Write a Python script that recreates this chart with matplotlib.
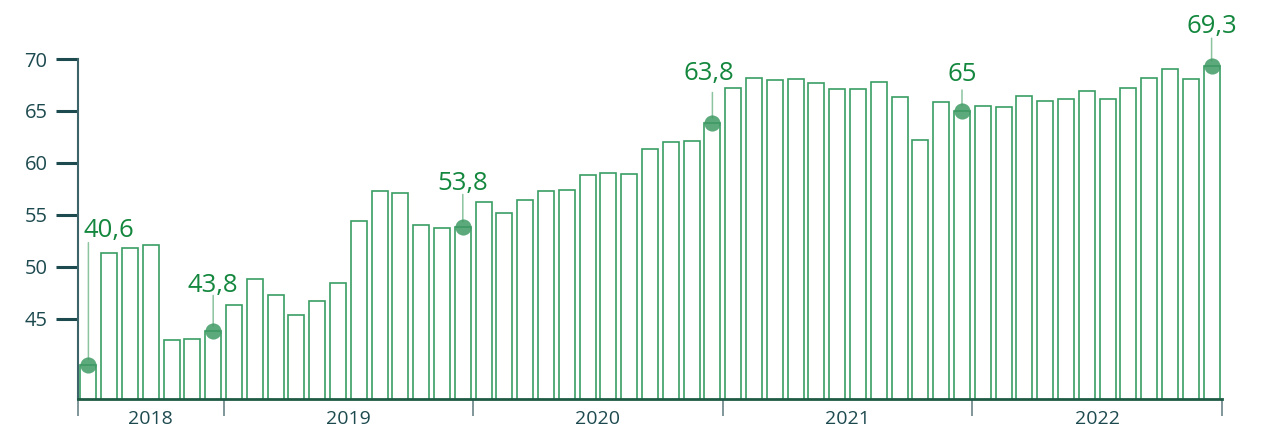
import matplotlib
matplotlib.use("Agg")
import matplotlib.pyplot as plt
import numpy as np

plt.rcParams['font.family'] = ['Open Sans', 'DejaVu Sans']

# Monthly values, June 2018 .. December 2022
values = [40.6, 51.3, 51.8, 52.1, 43.0, 43.1, 43.8,
          46.3, 48.8, 47.3, 45.4, 46.7, 48.5, 54.4, 57.3, 57.1, 54.0, 53.7, 53.8,
          56.2, 55.2, 56.4, 57.3, 57.4, 58.8, 59.0, 58.9, 61.3, 62.0, 62.1, 63.8,
          67.2, 68.2, 68.0, 68.1, 67.7, 67.1, 67.1, 67.8, 66.3, 62.2, 65.9, 65.0,
          65.5, 65.4, 66.4, 66.0, 66.2, 66.9, 66.2, 67.2, 68.2, 69.0, 68.1, 69.3]
years = ['2018', '2019', '2020', '2021', '2022']
months_per_year = [7, 12, 12, 12, 12]
yticks = [45, 50, 55, 60, 65, 70]
highlight_idx = [0, 6, 18, 30, 42, 54]
highlight_lbl = ['40,6', '43,8', '53,8', '63,8', '65', '69,3']
# (text dx, text baseline dy, line top dy) in pixels
label_offsets = [(20, 128, 122), (0, 39, 36), (0, 37, 33), (-4, 43, 31), (0, 30, 21), (0, 33, 28)]

BAR_EDGE = '#3a9d62'
LABEL_GREEN = '#13873d'
DOT = '#3f9a64'
DARK = '#1d4a4f'

fig = plt.figure(figsize=(12.65, 4.28), dpi=100)
ax = fig.add_axes([78/1265, 29/428, (1222-78)/1265, 340/428])

x = np.arange(len(values))
ax.bar(x, values, width=0.76, bottom=0, color='white', edgecolor=BAR_EDGE, linewidth=1.2, zorder=2)

ax.set_xlim(-0.5, len(values) - 0.5)
ax.set_ylim(37.3, 70)

# highlighted points
for i, lbl, (dx, dy, ly) in zip(highlight_idx, highlight_lbl, label_offsets):
    v = values[i]
    ax.annotate('', xy=(i, v), xytext=(0, ly), textcoords='offset pixels',
                arrowprops=dict(arrowstyle='-', color='#8cc4a0', lw=1.1,
                                shrinkA=0, shrinkB=4), annotation_clip=False, zorder=3)
    ax.annotate(lbl, xy=(i, v), xytext=(dx, dy), textcoords='offset pixels',
                ha='center', va='baseline', fontsize=18.5, color=LABEL_GREEN,
                fontweight='medium', annotation_clip=False, zorder=5)
ax.scatter([highlight_idx], [[values[i] for i in highlight_idx]], s=135, color=DOT,
           alpha=0.85, zorder=4, clip_on=False, linewidths=0)

# spines
for s in ['top', 'right']:
    ax.spines[s].set_visible(False)
ax.spines['left'].set_color('#3c6468')
ax.spines['left'].set_linewidth(1.5)
ax.spines['bottom'].set_color('#1e5a44')
ax.spines['bottom'].set_linewidth(2)
ax.spines['bottom'].set_zorder(6)

ax.set_yticks(yticks)
ax.set_yticklabels([str(t) for t in yticks], fontweight='medium')
ax.tick_params(axis='y', length=16, width=2.2, color=DARK, labelsize=14.5, labelcolor=DARK, pad=6)

# year boundaries as ticks, year labels centered
bounds = np.concatenate([[0], np.cumsum(months_per_year)]) - 0.5
ax.set_xticks(bounds)
ax.set_xticklabels([''] * len(bounds))
ax.tick_params(axis='x', length=12, width=1.2, color='#6a8488')
centers = (bounds[:-1] + bounds[1:]) / 2
for c, yr in zip(centers, years):
    ax.text(c, -0.0735, yr, transform=ax.get_xaxis_transform(), ha='center', va='baseline',
            fontsize=14, color=DARK, fontweight='medium')

fig.savefig('out.png', dpi=100)
